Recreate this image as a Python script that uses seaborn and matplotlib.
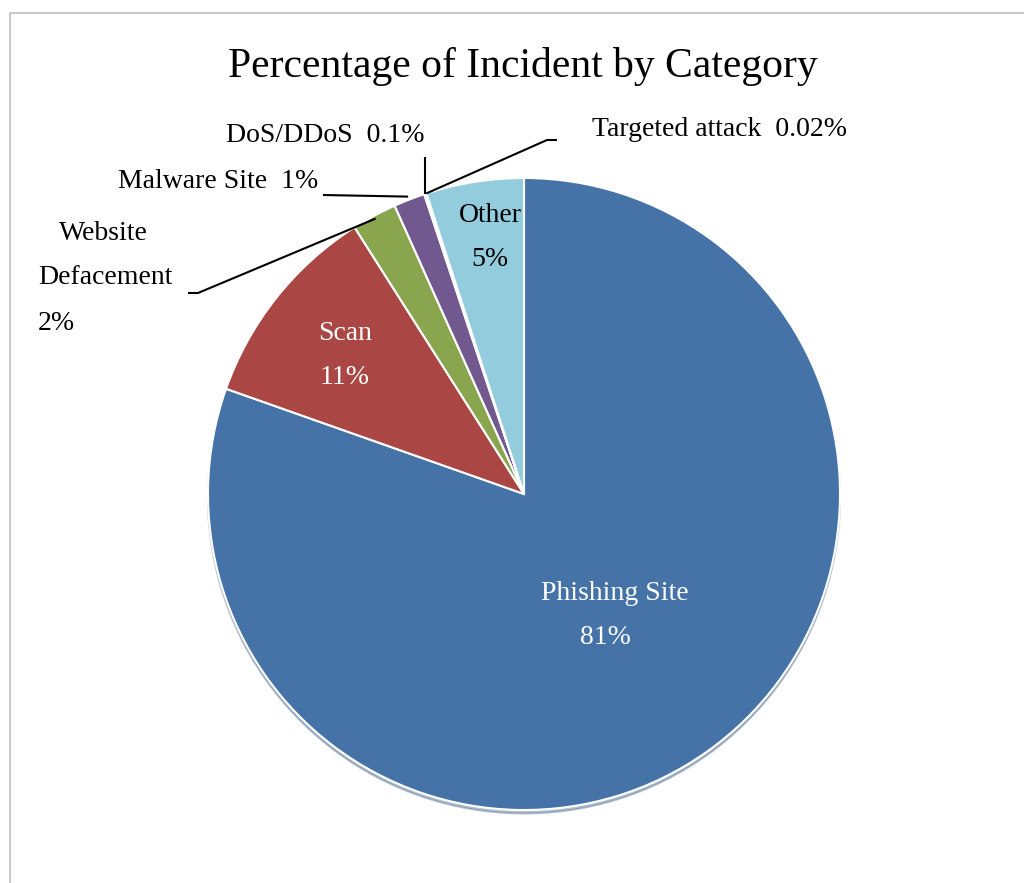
import matplotlib
matplotlib.use("Agg")
import matplotlib.pyplot as plt
import seaborn as sns
import numpy as np
from matplotlib.patches import Rectangle

# ---- data ----
categories = ["Phishing Site", "Scan", "Website Defacement", "Malware Site",
              "DoS/DDoS", "Targeted attack", "Other"]
values = [80.5, 10.6, 2.3, 1.6, 0.1, 0.02, 5.0]
pct_labels = ["81%", "11%", "2%", "1%", "0.1%", "0.02%", "5%"]
colors = ["#4572A7", "#AA4643", "#89A54E", "#71588F", "#4198AF", "#DB843D", "#93CDDD"]
title = "Percentage of Incident by Category"

sns.set_theme(style="white")
plt.rcParams['font.family'] = ['Liberation Serif', 'DejaVu Serif']

W, H = 1024, 883
fig = plt.figure(figsize=(W / 100, H / 100), dpi=100)
ax = fig.add_axes([0, 0, 1, 1])

def P(x, y):
    return x, H - y

def T(x, y):
    # text anchor, nudged to match baseline placement
    return x, H - (y + 3)

cx, cy = P(524, 494)
R = 316
wedges, _ = ax.pie(values, colors=colors, startangle=90, counterclock=False,
                   center=(cx, cy), radius=R,
                   wedgeprops=dict(edgecolor="white", linewidth=1.5),
                   shadow={'ox': 0.0, 'oy': -2.5, 'shade': 0.25, 'alpha': 0.35})
ax.set_xlim(0, W)
ax.set_ylim(0, H)
ax.set_aspect("equal")
ax.axis("off")

def edge_pt(i, r=R):
    w = wedges[i]
    a = np.deg2rad((w.theta1 + w.theta2) / 2)
    return cx + r * np.cos(a), cy + r * np.sin(a)

# border (left and top only visible)
ax.add_patch(Rectangle(P(9.5, 900), 1100, 900 - 12.5, fill=False,
                       edgecolor="#BFBFBF", linewidth=1.2, clip_on=False))

# title
ax.text(*T(523, 64), title, ha="center", va="center", fontsize=30, color="black")

fs = 20
# inside labels
ax.text(*T(615, 591), categories[0], ha="center", va="center", fontsize=fs, color="white")
ax.text(*T(605, 635), pct_labels[0], ha="center", va="center", fontsize=fs, color="white")
ax.text(*T(345, 330), categories[1], ha="center", va="center", fontsize=fs, color="white")
ax.text(*T(345, 375), pct_labels[1], ha="center", va="center", fontsize=fs, color="white")
ax.text(*T(490, 212), categories[6], ha="center", va="center", fontsize=fs, color="black")
ax.text(*T(490, 256), pct_labels[6], ha="center", va="center", fontsize=fs, color="black")

# outside labels
w1, w2 = categories[2].split(" ")
ax.text(*T(103, 230), w1, ha="center", va="center", fontsize=fs, color="black")
ax.text(*T(38, 275), w2, ha="left", va="center", fontsize=fs, color="black")
ax.text(*T(38, 321), pct_labels[2], ha="left", va="center", fontsize=fs, color="black")
ax.text(*T(318, 179), f"{categories[3]}  {pct_labels[3]}", ha="right", va="center", fontsize=fs, color="black")
ax.text(*T(325, 132), f"{categories[4]}  {pct_labels[4]}", ha="center", va="center", fontsize=fs, color="black")
ax.text(*T(720, 127), f"{categories[5]}  {pct_labels[5]}", ha="center", va="center", fontsize=fs, color="black")

# leader lines
lk = dict(color="black", linewidth=1.5, solid_capstyle="butt")
ex, ey = edge_pt(2, R * 0.99)
ax.plot([P(188, 293)[0], P(198, 293)[0], ex], [P(188, 293)[1], P(198, 293)[1], ey], **lk)
ex, ey = edge_pt(3, R * 1.01)
ax.plot([P(323, 195)[0], ex], [P(323, 195)[1], ey], **lk)
ex, ey = edge_pt(4, R * 1.0)
ax.plot([ex, ex], [P(0, 157)[1], ey], **lk)
ex, ey = edge_pt(5, R * 1.0)
ax.plot([ex, P(547, 140)[0], P(557, 140)[0]], [ey, P(547, 140)[1], P(557, 140)[1]], **lk)

fig.savefig("out.png", dpi=100, facecolor="white")
